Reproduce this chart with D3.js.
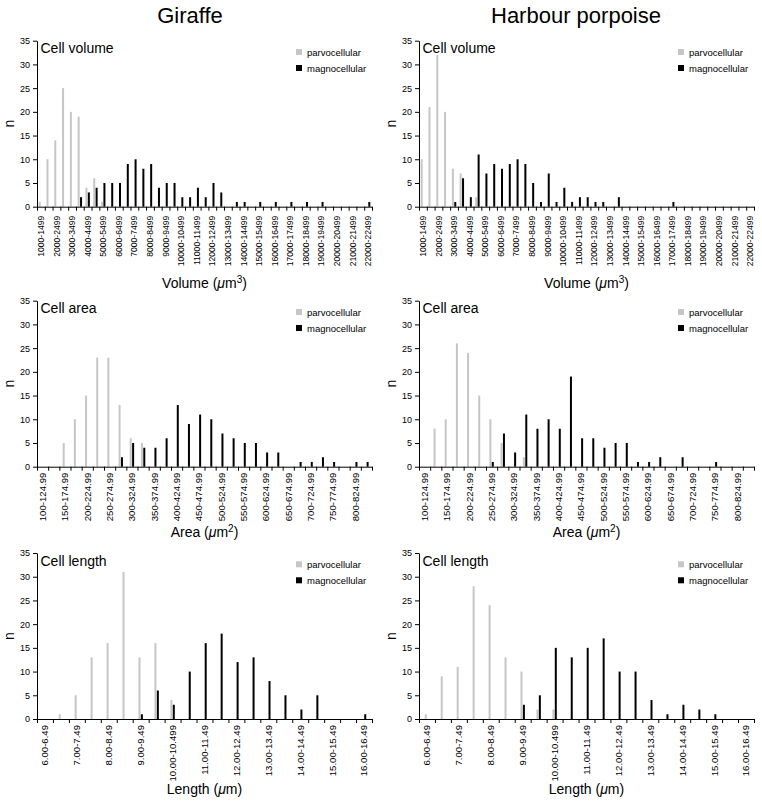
<!DOCTYPE html>
<html>
<head>
<meta charset="utf-8">
<script src="https://cdn.jsdelivr.net/npm/d3@7"></script>
<style>
body { margin: 0; background: #fff; }
svg { font-family: "Liberation Sans", Arial, Helvetica, sans-serif; }
</style>
</head>
<body>
<svg width="762" height="802"></svg>
<script>
// categories (bins)
var volumeCats = ["1000-1499","1500-1999","2000-2499","2500-2999","3000-3499","3500-3999","4000-4499","4500-4999",
  "5000-5499","5500-5999","6000-6499","6500-6999","7000-7499","7500-7999","8000-8499","8500-8999",
  "9000-9499","9500-9999","10000-10499","10500-10999","11000-11499","11500-11999","12000-12499","12500-12999",
  "13000-13499","13500-13999","14000-14499","14500-14999","15000-15499","15500-15999","16000-16499","16500-16999",
  "17000-17499","17500-17999","18000-18499","18500-18999","19000-19499","19500-19999","20000-20499","20500-20999",
  "21000-21499","21500-21999","22000-22499"];
var areaCats = ["100-124.99","125-149.99","150-174.99","175-199.99","200-224.99","225-249.99","250-274.99","275-299.99",
  "300-324.99","325-349.99","350-374.99","375-399.99","400-424.99","425-449.99","450-474.99","475-499.99",
  "500-524.99","525-549.99","550-574.99","575-599.99","600-624.99","625-649.99","650-674.99","675-699.99",
  "700-724.99","725-749.99","750-774.99","775-799.99","800-824.99","825-849.99"];
var lengthCats = ["6.00-6.49","6.50-6.99","7.00-7.49","7.50-7.99","8.00-8.49","8.50-8.99","9.00-9.49","9.50-9.99",
  "10.00-10.499","10.50-10.99","11.00-11.49","11.50-11.99","12.00-12.49","12.50-12.99","13.00-13.49","13.50-13.99",
  "14.00-14.49","14.50-14.99","15.00-15.49","15.50-15.99","16.00-16.49"];

// counts, giraffe
var giraffeVolParvo = [1,10,14,25,20,19,4,6,1,0, 0,0,0,0,0,0,0,0,0,0, 0,0,0,0,0,0,0,0,0,0, 0,0,0,0,0,0,0,0,0,0, 0,0,0];
var giraffeVolMagno = [0,0,0,0,0,2,3,4,5,5, 5,9,10,8,9,4,5,5,2,2, 4,2,5,3,0,1,1,0,1,0, 1,0,1,0,1,0,1,0,0,0, 0,0,1];
var giraffeAreaParvo = [0,0,5,10,15,23,23,13,6,5, 0,0,0,0,0,0,0,0,0,0, 0,0,0,0,0,0,0,0,0,0];
var giraffeAreaMagno = [0,0,0,0,0,0,0,2,5,4, 4,6,13,9,11,10,7,6,5,5, 3,3,0,1,1,2,1,0,1,1];
var giraffeLenParvo = [0,1,5,13,16,31,13,16,4,0, 0,0,0,0,0,0,0,0,0,0, 0];
var giraffeLenMagno = [0,0,0,0,0,0,1,6,3,10, 16,18,12,13,8,5,2,5,0,0, 1];

// counts, harbour porpoise
var porpoiseVolParvo = [10,21,32,20,8,7,0,2,0,0, 0,0,0,0,0,0,0,0,0,0, 0,0,0,0,0,0,0,0,0,0, 0,0,0,0,0,0,0,0,0,0, 0,0,0];
var porpoiseVolMagno = [0,0,0,0,1,6,2,11,7,9, 8,9,10,9,5,1,7,1,4,1, 2,2,1,1,0,2,0,0,0,0, 0,0,1,0,0,0,0,0,0,0, 0,0,0];
var porpoiseAreaParvo = [0,8,10,26,24,15,10,5,0,2, 0,0,0,0,0,0,0,0,0,0, 0,0,0,0,0,0,0,0,0,0];
var porpoiseAreaMagno = [0,0,0,0,0,0,1,7,3,11, 8,10,8,19,6,6,4,5,5,1, 1,2,0,2,0,0,1,0,0,0];
var porpoiseLenParvo = [1,9,11,28,24,13,10,2,2,0, 0,0,0,0,0,0,0,0,0,0, 0];
var porpoiseLenMagno = [0,0,0,0,0,0,3,5,15,13, 15,17,10,10,4,1,3,2,1,0, 0];

var yTicks = [0,5,10,15,20,25,30,35];
var legendNames = ["parvocellular", "magnocellular"];
var grey = "#c6c6c6";

var plotH = 166;
var cols = [{x0: 37, x1: 372, title: "Giraffe", cx: 190},
            {x0: 419, x1: 754, title: "Harbour porpoise", cx: 576}];
var rows = [{top: 40.7, titleY: 288, gap: 9, fs: 8.6, label: "Cell volume", unit: "Volume", sup: "3", cats: volumeCats},
            {top: 300.7, titleY: 537, gap: 6, fs: 9.6, label: "Cell area", unit: "Area", sup: "2", cats: areaCats},
            {top: 553, titleY: 794, gap: 6, fs: 9.6, label: "Cell length", unit: "Length", sup: "", cats: lengthCats}];
var series = [
  [[giraffeVolParvo, giraffeVolMagno], [porpoiseVolParvo, porpoiseVolMagno]],
  [[giraffeAreaParvo, giraffeAreaMagno], [porpoiseAreaParvo, porpoiseAreaMagno]],
  [[giraffeLenParvo, giraffeLenMagno], [porpoiseLenParvo, porpoiseLenMagno]]
];

var svg = d3.select("svg");

cols.forEach(function(c) {
  svg.append("text")
      .attr("x", c.cx)
      .attr("y", 23)
      .attr("text-anchor", "middle")
      .attr("font-size", "22px")
      .text(c.title);
});

rows.forEach(function(r, ri) {
  cols.forEach(function(c, ci) {
    drawPanel(r, c, series[ri][ci][0], series[ri][ci][1]);
  });
});

function drawPanel(r, c, parvo, magno) {
  var w = c.x1 - c.x0;
  var g = svg.append("g").attr("transform", `translate(${c.x0},${r.top})`);

  var x = d3.scaleBand().domain(r.cats).range([0, w]);
  var xEdge = d3.scaleLinear().domain([0, r.cats.length]).range([0, w]);
  var y = d3.scaleLinear().domain([0, 35]).range([plotH, 0]);
  var bw = 2;

  // bars
  g.selectAll(".parvo")
    .data(r.cats)
  .enter()
  .append("rect")
      .attr("x", (d, i) => x(d) + x.bandwidth() / 2 - 1.2 - bw / 2)
      .attr("y", (d, i) => y(parvo[i]))
      .attr("width", bw)
      .attr("height", (d, i) => plotH - y(parvo[i]))
      .attr("fill", grey);
  g.selectAll(".magno")
    .data(r.cats)
  .enter()
  .append("rect")
      .attr("x", (d, i) => x(d) + x.bandwidth() / 2 + 1.2 - bw / 2)
      .attr("y", (d, i) => y(magno[i]))
      .attr("width", bw)
      .attr("height", (d, i) => plotH - y(magno[i]))
      .attr("fill", "#000");

  // y axis
  var yAxis = d3.axisLeft(y)
                .tickValues(yTicks)
                .tickSize(4)
                .tickSizeOuter(0)
                .tickPadding(3);
  g.append("g")
      .call(yAxis)
      .call(s => s.selectAll("text").attr("font-size", "9px").attr("font-family", null));

  // x axis: tick marks at bin edges
  var xAxis = d3.axisBottom(xEdge)
                .tickValues(d3.range(r.cats.length + 1))
                .tickFormat("")
                .tickSize(4)
                .tickSizeOuter(0);
  g.append("g")
      .attr("transform", `translate(0,${plotH})`)
      .call(xAxis);

  // x labels, every other bin
  var xLabels = d3.axisBottom(x)
                  .tickValues(r.cats.filter((d, i) => i % 2 == 0))
                  .tickSize(0);
  g.append("g")
      .attr("transform", `translate(0,${plotH})`)
      .call(xLabels)
      .call(s => s.select(".domain").remove())
      .selectAll("text")
        .attr("font-size", r.fs + "px")
        .attr("font-family", null)
        .attr("transform", "rotate(-90)")
        .attr("text-anchor", "end")
        .attr("x", -r.gap)
        .attr("y", 0)
        .attr("dy", "0.36em");

  // panel label
  g.append("text")
      .attr("x", 3.5)
      .attr("y", 12.6)
      .attr("font-size", "14px")
      .text(r.label);

  // y title
  g.append("text")
      .attr("transform", `translate(-23,${plotH / 2}) rotate(-90)`)
      .attr("text-anchor", "middle")
      .attr("font-size", "14px")
      .text("n");

  // x title
  var t = svg.append("text")
      .attr("x", (c.x0 + c.x1) / 2)
      .attr("y", r.titleY)
      .attr("text-anchor", "middle")
      .attr("font-size", "14px");
  t.append("tspan").text(r.unit + " (");
  t.append("tspan").attr("font-style", "italic").text("\u03bc");
  t.append("tspan").text("m");
  if (r.sup) {
    t.append("tspan").attr("dy", -5).attr("font-size", "10px").text(r.sup);
    t.append("tspan").attr("dy", 5).text(")");
  } else {
    t.append("tspan").text(")");
  }

  // legend
  var lg = g.append("g").attr("transform", "translate(259,8.3)");
  legendNames.forEach(function(name, i) {
    lg.append("rect")
        .attr("x", 0)
        .attr("y", i * 16)
        .attr("width", 6)
        .attr("height", 6)
        .attr("fill", i == 0 ? grey : "#000");
    lg.append("text")
        .attr("x", 11)
        .attr("y", i * 16 + 6.5)
        .attr("font-size", "9.5px")
        .text(name);
  });
}
</script>
</body>
</html>
